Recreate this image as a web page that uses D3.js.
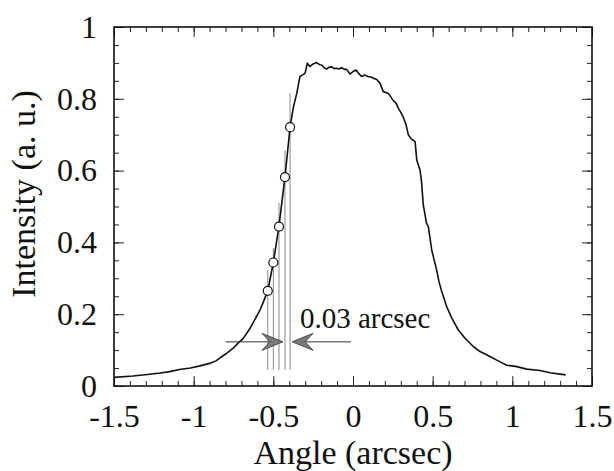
<!DOCTYPE html>
<html>
<head>
<meta charset="utf-8">
<script src="https://d3js.org/d3.v7.min.js"></script>
<style>
  body { margin: 0; background: #fff; }
  svg text { font-family: "Liberation Serif", "Tinos", "Times New Roman", Times, "DejaVu Serif", serif !important; fill: #111; }
</style>
</head>
<body>
<div id="chart"></div>
<script>
var width = 614;
var height = 471;

// measured profile
var angle = [-1.50, -1.38, -1.29, -1.21, -1.15, -1.09, -1.02, -0.96, -0.90, -0.86,
  -0.83, -0.79, -0.75, -0.72, -0.69, -0.65, -0.61, -0.58, -0.56, -0.535,
  -0.50, -0.465, -0.427, -0.395, -0.375, -0.353, -0.333, -0.31, -0.30, -0.287,
  -0.27, -0.25, -0.228, -0.21, -0.197, -0.18, -0.165, -0.15, -0.134, -0.118,
  -0.102, -0.087, -0.071, -0.055, -0.04, -0.019, 0.0, 0.019, 0.037, 0.054,
  0.075, 0.095, 0.117, 0.135, 0.149, 0.17, 0.19, 0.21, 0.222, 0.253,
  0.27, 0.284, 0.30, 0.316, 0.333, 0.347, 0.356, 0.368, 0.382, 0.39,
  0.40, 0.421, 0.43, 0.441, 0.455, 0.46, 0.473, 0.494, 0.51, 0.525,
  0.54, 0.557, 0.578, 0.588, 0.62, 0.661, 0.703, 0.755, 0.797, 0.86,
  0.902, 0.965, 1.028, 1.09, 1.174, 1.237, 1.299, 1.335];
var intensity = [0.024, 0.028, 0.032, 0.036, 0.040, 0.046, 0.050, 0.056, 0.063, 0.070,
  0.080, 0.092, 0.106, 0.120, 0.132, 0.158, 0.190, 0.215, 0.237, 0.265,
  0.344, 0.444, 0.582, 0.721, 0.775, 0.815, 0.862, 0.868, 0.872, 0.899,
  0.890, 0.897, 0.901, 0.895, 0.894, 0.886, 0.883, 0.888, 0.889, 0.884,
  0.885, 0.883, 0.887, 0.882, 0.882, 0.869, 0.876, 0.880, 0.870, 0.862,
  0.866, 0.862, 0.860, 0.856, 0.854, 0.843, 0.820, 0.817, 0.815, 0.795,
  0.788, 0.774, 0.762, 0.748, 0.728, 0.700, 0.694, 0.687, 0.684, 0.680,
  0.630, 0.600, 0.570, 0.505, 0.470, 0.455, 0.444, 0.379, 0.350, 0.323,
  0.290, 0.263, 0.235, 0.221, 0.189, 0.156, 0.133, 0.110, 0.096, 0.082,
  0.072, 0.058, 0.054, 0.047, 0.043, 0.037, 0.033, 0.031];

// marked points and their guide lines
var markAngle = [-0.535, -0.500, -0.4645, -0.427, -0.395];
var markIntensity = [0.265, 0.344, 0.444, 0.582, 0.721];
var guideTop = [0.323, 0.384, 0.51, 0.657, 0.816];
var guideBottom = 0.045;

var xTicks = [-1.5, -1, -0.5, 0, 0.5, 1, 1.5];
var yTicks = [0, 0.2, 0.4, 0.6, 0.8, 1];
var xTickLabels = ["-1.5", "-1", "-0.5", "0", "0.5", "1", "1.5"];
var yTickLabels = ["0", "0.2", "0.4", "0.6", "0.8", "1"];

var serif = '"Liberation Serif", "Tinos", "Times New Roman", Times, "DejaVu Serif", serif';

var margin = { top: 27, right: 22, bottom: 85, left: 114 };
var w = width - margin.left - margin.right;
var h = height - margin.top - margin.bottom;

var x = d3.scaleLinear().domain([-1.5, 1.5]).range([0, w]);
var y = d3.scaleLinear().domain([0, 1]).range([h, 0]);

var svg = d3.select("#chart").append("svg")
  .attr("width", width)
  .attr("height", height)
  .attr("font-family", serif);

var g = svg.append("g")
  .attr("transform", "translate(" + margin.left + "," + margin.top + ")");

var xMinor = d3.range(-15, 16).map(function(d) { return d / 10; });
var yMinor = d3.range(0, 21).map(function(d) { return d / 20; });

function styleAxis(sel) {
  sel.select(".domain").remove();
  sel.attr("font-family", serif);
  sel.selectAll("line").attr("stroke", "#222").attr("stroke-width", 1);
}

// minor ticks, all four sides
g.append("g").attr("transform", "translate(0," + h + ")")
  .call(d3.axisBottom(x).tickValues(xMinor).tickSize(-5).tickFormat(""))
  .call(styleAxis);
g.append("g")
  .call(d3.axisTop(x).tickValues(xMinor).tickSize(-5).tickFormat(""))
  .call(styleAxis);
g.append("g")
  .call(d3.axisLeft(y).tickValues(yMinor).tickSize(-5).tickFormat(""))
  .call(styleAxis);
g.append("g").attr("transform", "translate(" + w + ",0)")
  .call(d3.axisRight(y).tickValues(yMinor).tickSize(-5).tickFormat(""))
  .call(styleAxis);

// major ticks with labels
g.append("g").attr("transform", "translate(0," + h + ")")
  .call(d3.axisBottom(x).tickValues(xTicks).tickSize(-10).tickPadding(18)
    .tickFormat(function(d, i) { return xTickLabels[i]; }))
  .call(styleAxis)
  .selectAll("text").attr("font-size", 32);
g.append("g")
  .call(d3.axisTop(x).tickValues(xTicks).tickSize(-10).tickFormat(""))
  .call(styleAxis);
g.append("g")
  .call(d3.axisLeft(y).tickValues(yTicks).tickSize(-10).tickPadding(17)
    .tickFormat(function(d, i) { return yTickLabels[i]; }))
  .call(styleAxis)
  .selectAll("text").attr("font-size", 32);
g.append("g").attr("transform", "translate(" + w + ",0)")
  .call(d3.axisRight(y).tickValues(yTicks).tickSize(-10).tickFormat(""))
  .call(styleAxis);

svg.selectAll(".tick text").style("fill", "#111");

// frame
g.append("rect")
  .attr("width", w).attr("height", h)
  .attr("fill", "none").attr("stroke", "#111").attr("stroke-width", 1.6);

// guide lines
g.selectAll(".guide").data(markAngle).enter().append("line")
  .attr("class", "guide")
  .attr("x1", function(d) { return x(d); })
  .attr("x2", function(d) { return x(d); })
  .attr("y1", y(guideBottom))
  .attr("y2", function(d, i) { return y(guideTop[i]); })
  .attr("stroke", "#8a8a8a").attr("stroke-width", 1);

// profile curve
var line = d3.line()
  .x(function(d, i) { return x(angle[i]); })
  .y(function(d) { return y(d); });
g.append("path").datum(intensity)
  .attr("d", line)
  .attr("fill", "none").attr("stroke", "#111").attr("stroke-width", 1.6)
  .attr("stroke-linejoin", "round");

// marked points
g.selectAll(".mark").data(markAngle).enter().append("circle")
  .attr("class", "mark")
  .attr("cx", function(d) { return x(d); })
  .attr("cy", function(d, i) { return y(markIntensity[i]); })
  .attr("r", 4.5)
  .attr("fill", "#fff").attr("stroke", "#111").attr("stroke-width", 1.2);

// 0.03 arcsec arrows
var arrowY = y(0.123);
var leftTip = x(markAngle[3]) - 2;
var rightTip = x(markAngle[4]) + 2;
g.append("line")
  .attr("x1", x(-0.80)).attr("x2", leftTip - 12)
  .attr("y1", arrowY).attr("y2", arrowY)
  .attr("stroke", "#333").attr("stroke-width", 1);
g.append("line")
  .attr("x1", x(-0.013)).attr("x2", rightTip + 12)
  .attr("y1", arrowY).attr("y2", arrowY)
  .attr("stroke", "#333").attr("stroke-width", 1);

function arrowHead(tip, dir) {
  var p = d3.path();
  p.moveTo(tip, arrowY);
  p.lineTo(tip - dir * 21, arrowY - 8.5);
  p.lineTo(tip - dir * 13, arrowY);
  p.lineTo(tip - dir * 21, arrowY + 8.5);
  p.closePath();
  return p.toString();
}
g.append("path").attr("d", arrowHead(leftTip, 1))
  .attr("fill", "#7a7a7a").attr("stroke", "#333").attr("stroke-width", 0.8);
g.append("path").attr("d", arrowHead(rightTip, -1))
  .attr("fill", "#7a7a7a").attr("stroke", "#333").attr("stroke-width", 0.8);

g.append("text")
  .attr("x", x(-0.333)).attr("y", y(0.162))
  .attr("font-size", 29)
  .text("0.03 arcsec");

// axis titles
svg.append("text")
  .attr("x", margin.left + x(0)).attr("y", 464)
  .attr("text-anchor", "middle")
  .attr("font-size", 34)
  .text("Angle (arcsec)");

svg.append("text")
  .attr("transform", "translate(35,194) rotate(-90)")
  .attr("text-anchor", "middle")
  .attr("font-size", 34)
  .text("Intensity (a. u.)");
</script>
</body>
</html>
